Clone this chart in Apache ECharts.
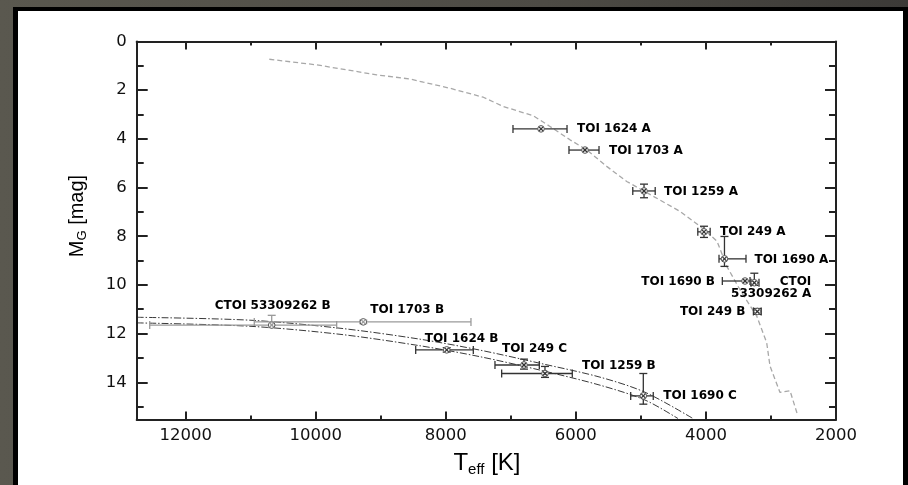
<!DOCTYPE html>
<html>
<head>
<meta charset="utf-8">
<script src="https://cdn.jsdelivr.net/npm/echarts@6/dist/echarts.min.js"></script>
<style>
  html, body { margin: 0; padding: 0; }
  body { width: 908px; height: 485px; position: relative; overflow: hidden;
         background: linear-gradient(90deg, #5a584f 0%, #4d4b45 60%, #3c3a37 100%); }
  #frame { position: absolute; left: 13px; top: 7px; width: 895px; height: 478px; background: #000; }
  #panel { position: absolute; left: 18px; top: 11px; width: 885px; height: 474px; background: #fff; }
  #main { position: absolute; left: 0; top: 0; width: 908px; height: 485px; }
</style>
</head>
<body>
<div id="frame"></div>
<div id="panel"></div>
<div id="main"></div>
<script>
// stars: Teff [K] and absolute G magnitude, with error bar ends
const names = ['TOI 1624 A', 'TOI 1703 A', 'TOI 1259 A', 'TOI 249 A', 'TOI 1690 A', 'TOI 1690 B',
  'CTOI\n53309262 A', 'TOI 249 B', 'CTOI 53309262 B', 'TOI 1703 B', 'TOI 1624 B', 'TOI 249 C',
  'TOI 1259 B', 'TOI 1690 C']
const teff     = [6536, 5860, 4952, 4030, 3715, 3399, 3256, 3210, 10677, 9269, 7986, 6798, 6475, 4963]
const teffLow  = [6136, 5644, 4780, 3935, 3384, 3322, 3184, 3150, 9678, 7613, 7577, 6562, 6055, 4810]
const teffHigh = [6967, 6106, 5125, 4125, 3799, 3748, 3307, 3270, 12553, 10945, 8463, 7244, 7141, 5157]
const mag      = [3.59, 4.46, 6.14, 7.82, 8.93, 9.84, 9.91, 11.09, 11.65, 11.52, 12.67, 13.29, 13.64, 14.56]
const magLow   = [3.55, 4.40, 5.86, 7.59, 8.01, 9.78, 9.52, 10.97, 11.25, 11.45, 12.58, 13.05, 13.35, 13.64]
const magHigh  = [3.63, 4.52, 6.42, 8.05, 9.24, 9.90, 10.02, 11.21, 11.75, 11.59, 12.76, 13.46, 13.80, 14.90]

// main sequence track (grey dashed)
const trackT = [10714, 9985, 9063, 8551, 8346, 7936, 7423, 7116, 6655, 6398, 6090, 5834, 5526, 5218,
  4809, 4399, 4091, 3830, 3681, 3450, 3219, 3066, 3015, 2861, 2707, 2595]
const trackM = [0.73, 0.96, 1.37, 1.54, 1.67, 1.92, 2.29, 2.67, 3.05, 3.49, 4.04, 4.45, 5.13, 5.75,
  6.36, 6.98, 7.59, 8.20, 9.23, 10.32, 11.28, 12.37, 13.33, 14.42, 14.35, 15.31]

// white dwarf cooling tracks (dash-dot)
const upperT = [12753, 11011, 9627, 8397, 7474, 6552, 5629, 4937, 4199]
const upperM = [11.33, 11.45, 11.78, 12.23, 12.68, 13.22, 13.79, 14.41, 15.49]
const lowerT = [12753, 11011, 9627, 8397, 7474, 6552, 5629, 4937, 4430]
const lowerM = [11.56, 11.70, 12.03, 12.50, 12.95, 13.50, 14.12, 14.73, 15.49]

const xMajor = [2000, 4000, 6000, 8000, 10000, 12000]
const xMinor = [3000, 5000, 7000, 9000, 11000]
const yMajor = [0, 2, 4, 6, 8, 10, 12, 14]
const yMinor = [1, 3, 5, 7, 9, 11, 13, 15]

// label placement relative to the point (px)
const labelDx    = [36, 24, 20, 16, 30, -30, 57, -12, 1, 7, -22, -22, 37, 20]
const labelDy    = [0, 1, 1, 0, 1, 1, -6.5, 0, -19, -12, -11.5, -16, -8, 0]
const labelAlign = ['left', 'left', 'left', 'left', 'left', 'right', 'right', 'right', 'center',
  'left', 'left', 'left', 'left', 'left']
const greyBars = ['CTOI 53309262 B', 'TOI 1703 B']

const X_MIN = 2000, X_MAX = 12753, Y_MIN = 0, Y_MAX = 15.53
const AX = '#222'
const tickFont = { fontFamily: 'DejaVu Sans', fontSize: 16.5, color: '#111', formatter: v => String(v) }

const xAxisDef = (pos, ticks, len, line, labels) => ({
  type: 'value', position: pos, min: X_MIN, max: X_MAX, inverse: true,
  axisLine: { show: line, onZero: false, lineStyle: { color: AX, width: 2 } },
  axisTick: { show: true, inside: true, length: len, customValues: ticks, lineStyle: { color: AX, width: 2 } },
  axisLabel: labels ? Object.assign({ show: true, margin: 8, customValues: ticks }, tickFont) : { show: false },
  splitLine: { show: false }
})
const yAxisDef = (pos, ticks, len, line, labels) => ({
  type: 'value', position: pos, min: Y_MIN, max: Y_MAX, inverse: true,
  axisLine: { show: line, onZero: false, lineStyle: { color: AX, width: 2 } },
  axisTick: { show: true, inside: true, length: len, customValues: ticks, lineStyle: { color: AX, width: 2 } },
  axisLabel: labels ? Object.assign({ show: true, margin: 10, customValues: ticks }, tickFont) : { show: false },
  splitLine: { show: false }
})

const barData = names.map((n, i) => [teff[i], mag[i], teffLow[i], teffHigh[i], magLow[i], magHigh[i], i])

const renderBars = (params, api) => {
  const i = api.value(6)
  const c = api.coord([api.value(0), api.value(1)])
  const l = api.coord([api.value(2), api.value(1)])
  const r = api.coord([api.value(3), api.value(1)])
  const t = api.coord([api.value(0), api.value(4)])
  const b = api.coord([api.value(0), api.value(5)])
  const color = greyBars.includes(names[i]) ? '#9a9a9a' : '#333'
  const cap = 4
  const seg = (x1, y1, x2, y2) => ({
    type: 'line', shape: { x1, y1, x2, y2 }, style: { stroke: color, lineWidth: 1.3 }
  })
  const kids = [
    seg(l[0], c[1], r[0], c[1]),
    seg(l[0], c[1] - cap, l[0], c[1] + cap),
    seg(r[0], c[1] - cap, r[0], c[1] + cap)
  ]
  if (Math.abs(b[1] - t[1]) > 3) {
    kids.push(seg(c[0], t[1], c[0], b[1]))
    kids.push(seg(c[0] - cap, t[1], c[0] + cap, t[1]))
    kids.push(seg(c[0] - cap, b[1], c[0] + cap, b[1]))
  }
  kids.push({ type: 'circle', shape: { cx: c[0], cy: c[1], r: 3.3 },
    style: { fill: '#fff', stroke: '#555', lineWidth: 1 } })
  kids.push(seg(c[0] - 2, c[1] - 2, c[0] + 2, c[1] + 2))
  kids.push(seg(c[0] - 2, c[1] + 2, c[0] + 2, c[1] - 2))
  const multi = names[i].includes('\n')
  kids.push({
    type: 'text', x: c[0] + labelDx[i], y: c[1] + labelDy[i],
    style: {
      text: names[i], fill: '#000', fontFamily: 'DejaVu Sans', fontWeight: 'bold', fontSize: 12,
      align: labelAlign[i], verticalAlign: multi ? 'top' : 'middle', lineHeight: 12
    }
  })
  return { type: 'group', children: kids }
}

const nameRich = {
  a: { fontFamily: 'Liberation Sans', fontSize: 24, color: '#111', lineHeight: 28 },
  s: { fontFamily: 'Liberation Sans', fontSize: 15, color: '#111', verticalAlign: 'bottom', lineHeight: 19 }
}

const option = {
  animation: false,
  grid: { left: 136.7, right: 72, top: 41.5, bottom: 65.5, containLabel: false },
  xAxis: [
    xAxisDef('bottom', xMajor, 8, true, true),
    xAxisDef('bottom', xMinor, 4, false, false),
    xAxisDef('top', xMajor, 8, true, false),
    xAxisDef('top', xMinor, 4, false, false)
  ],
  yAxis: [
    yAxisDef('left', yMajor, 11, true, true),
    yAxisDef('left', yMinor, 7, false, false),
    yAxisDef('right', yMajor, 11, true, false),
    yAxisDef('right', yMinor, 7, false, false)
  ],
  graphic: [
    { type: 'text', x: 487, y: 463, z: 10,
      style: { text: '{a|T}{s|eff}{a| [K]}', rich: nameRich, align: 'center', verticalAlign: 'middle' } },
    { type: 'text', x: 77, y: 216, rotation: Math.PI / 2, z: 10,
      style: { text: '{a|M}{s|G}{a| [mag]}',
        rich: { a: Object.assign({}, nameRich.a, { fontSize: 20, lineHeight: 24 }),
                s: Object.assign({}, nameRich.s, { fontSize: 13, lineHeight: 16 }) },
        align: 'center', verticalAlign: 'middle' } }
  ],
  series: [
    { type: 'line', data: trackT.map((t, i) => [t, trackM[i]]), showSymbol: false, symbol: 'none',
      lineStyle: { color: '#a8a8a8', width: 1.3, type: [5, 3] }, z: 2, clip: true },
    { type: 'line', data: upperT.map((t, i) => [t, upperM[i]]), showSymbol: false, symbol: 'none', smooth: 0.3,
      lineStyle: { color: '#222', width: 0.9, type: [7, 2, 1.5, 2] }, z: 2, clip: true },
    { type: 'line', data: lowerT.map((t, i) => [t, lowerM[i]]), showSymbol: false, symbol: 'none', smooth: 0.3,
      lineStyle: { color: '#222', width: 0.9, type: [7, 2, 1.5, 2] }, z: 2, clip: true },
    { type: 'custom', data: barData, renderItem: renderBars, encode: { x: 0, y: 1 }, z: 5, clip: false }
  ]
}

const chart = echarts.init(document.getElementById('main'), null, { renderer: 'canvas' })
chart.setOption(option)
</script>
</body>
</html>
